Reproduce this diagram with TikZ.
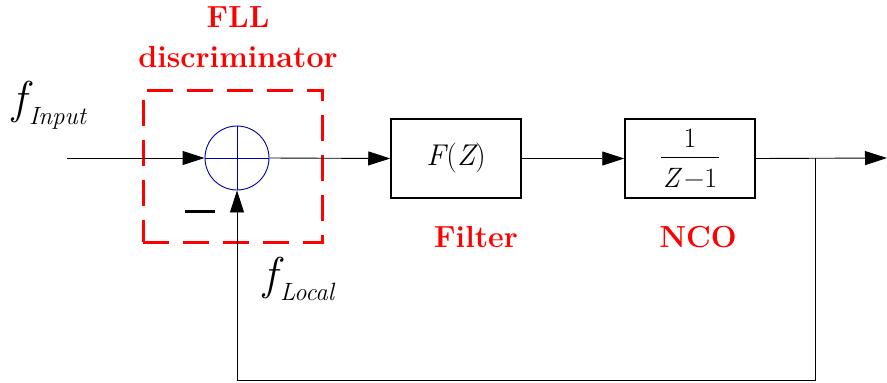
\documentclass[tikz,border=0pt]{standalone}
\usepackage{fontspec}
\usetikzlibrary{arrows.meta}
\begin{document}
\begin{tikzpicture}[x=1pt,y=-1pt,
  arr/.style={line width=0.9pt,-{Triangle[length=22pt,width=14pt]}},
  blockbox/.style={draw,line width=1.5pt,minimum width=130pt,minimum height=79pt,inner sep=0pt},
  dashbox/.style={draw=red,line width=3pt,dash pattern=on 26pt off 14pt,minimum width=179pt,minimum height=152pt},
  redlabel/.style={text=red,font=\fontsize{30.5}{32}\selectfont\bfseries,inner sep=0pt},
  sumnode/.style={circle,draw=blue!65!black,line width=0.9pt,minimum size=64pt,inner sep=0pt}]
\useasboundingbox (0,0) rectangle (887,383);
% dashed discriminator frame
\node[dashbox] (fll) at (232.5,166) {};
% summing junction
\node[sumnode] (sum) at (237,158) {};
\draw[blue!65!black,line width=0.9pt] (sum.north) -- (sum.south) (sum.west) -- (sum.east);
% blocks
\node[blockbox,font=\fontsize{30}{32}\selectfont] (filt) at (456,158.5) {\itshape F\kern1pt\upshape(\itshape Z\upshape)};
\node[blockbox,align=center,font=\fontsize{28}{30}\selectfont] (nco) at (690,158.5)
  {1\\[-20pt]\rule{58pt}{1.2pt}\\[0pt]\itshape Z\,\upshape−1};
% coordinates
\coordinate (in) at (67,158);
\coordinate (out) at (887,158);
\coordinate (j) at (815,158);
\coordinate (c2) at (237,380);
% connectors
\draw[arr] (in) -- (sum.west);
\draw[arr] (sum.east) -- (filt.west);
\draw[arr] (filt.east) -- (nco.west);
\draw[arr] (nco.east) -- (out);
\draw[arr] (j) |- (c2) -- (sum.south);
% labels
\node[redlabel] (t1) at (238,17) {FLL};
\node[redlabel] (t2) at (238,57) {discriminator};
\node[redlabel] (t3) at (476,237) {Filter};
\node[redlabel] (t4) at (698,237) {NCO};
\node[inner sep=0pt,anchor=base west] (fin) at (12,113)
  {\fontsize{46}{46}\selectfont\itshape f\kern3pt\raisebox{-11pt}{\fontsize{25}{25}\selectfont Input}};
\node[inner sep=0pt,anchor=base west] (flo) at (263,289)
  {\fontsize{46}{46}\selectfont\itshape f\kern3pt\raisebox{-11pt}{\fontsize{25}{25}\selectfont Local}};
\node[inner sep=0pt] (minus) at (200,211) {\rule{30pt}{3pt}};
\end{tikzpicture}
\end{document}
